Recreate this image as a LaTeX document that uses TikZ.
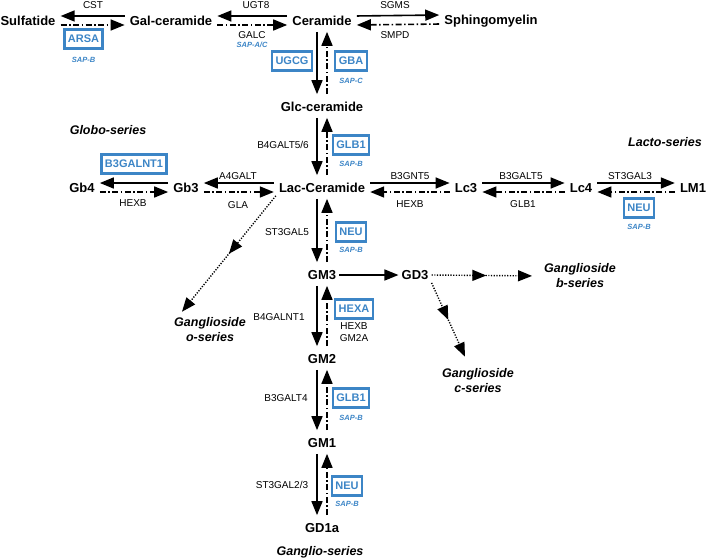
\documentclass[tikz,border=0pt]{standalone}
\usepackage{fontspec}
\setmainfont{Liberation Sans}
\usetikzlibrary{arrows.meta,positioning,decorations.markings}
\definecolor{enzblue}{HTML}{3C85C6}

\begin{document}
\begin{tikzpicture}[x=1pt,y=-1pt,
  met/.style={font=\fontsize{13}{15}\selectfont\bfseries, inner sep=3pt, text height=9.3pt, text depth=0pt},
  lbl/.style={font=\fontsize{10}{12}\selectfont, inner sep=1pt, text height=7.2pt, text depth=0pt},
  enz/.style={draw=enzblue, line width=2.4pt, text=enzblue, font=\fontsize{11}{13}\selectfont\bfseries, inner xsep=3.5pt, minimum height=19pt},
  sap/.style={text=enzblue, font=\fontsize{7.5}{9}\selectfont\bfseries\itshape, inner sep=1pt},
  series/.style={font=\fontsize{12.5}{15}\selectfont\bfseries\itshape, align=center, inner sep=3pt},
  syn/.style={line width=1.6pt, -{Triangle[length=14pt,width=11pt]}},
  deg/.style={syn, dash pattern=on 6pt off 2.5pt on 1.5pt off 2.5pt},
  alt/.style={line width=1.4pt, dash pattern=on 1.2pt off 1.5pt, -{Triangle[length=14pt,width=11pt]},
    postaction={decorate}, decoration={markings, mark=at position 0.5 with {\arrow{Triangle[length=14pt,width=11pt]}}}}
]
\useasboundingbox (0,0) rectangle (708,559);

% metabolites
\node[met] (sulf) at (28,21) {Sulfatide};
\node[met] (galcer) at (171,21) {Gal-ceramide};
\node[met] (cer) at (322,21) {Ceramide};
\node[met] (sm) at (491,20) {Sphingomyelin};
\node[met] (glc) at (322,107) {Glc-ceramide};
\node[met] (lac) at (322,188) {Lac-Ceramide};
\node[met] (gb3) at (186,188) {Gb3};
\node[met] (gb4) at (82,188) {Gb4};
\node[met] (lc3) at (466,188) {Lc3};
\node[met] (lc4) at (581,188) {Lc4};
\node[met] (lm1) at (693,188) {LM1};
\node[met] (gm3) at (322,275) {GM3};
\node[met] (gd3) at (415,275) {GD3};
\node[met] (gm2) at (322,359) {GM2};
\node[met] (gm1) at (322,443) {GM1};
\node[met] (gd1a) at (322,528) {GD1a};

% series
\node[series] (globo) at (108,130) {Globo-series};
\node[series] (lacto) at (665,142) {Lacto-series};
\node[series] (ganglio) at (320,552) {Ganglio-series};
\node[series] (oser) at (210,330) {Ganglioside\\o-series};
\node[series] (bser) at (580,276) {Ganglioside\\b-series};
\node[series] (cser) at (478,381) {Ganglioside\\c-series};

% horizontal reactions
\foreach \s/\d in {galcer.west/sulf.east, cer.west/galcer.east, cer.east/sm.west,
                   gb3.west/gb4.east, lac.west/gb3.east, lac.east/lc3.west,
                   lc3.east/lc4.west, lc4.east/lm1.west} {
  \draw[syn, shorten <=2pt, shorten >=2pt] ([yshift=5pt]\s) -- ([yshift=5pt]\d);
  \draw[deg, shorten <=2pt, shorten >=2pt] ([yshift=-4pt]\d) -- ([yshift=-4pt]\s);
}

% vertical reactions
\foreach \a/\b in {cer/glc, glc/lac, lac/gm3, gm3/gm2, gm2/gm1, gm1/gd1a} {
  \draw[syn, shorten <=3pt, shorten >=5pt] ([xshift=-5pt]\a.south) -- ([xshift=-5pt]\b.north);
  \draw[deg, shorten <=5pt, shorten >=3pt] ([xshift=5pt]\b.north) -- ([xshift=5pt]\a.south);
}

\draw[syn] (gm3) -- (gd3);
\draw[alt] (lac.south west) -- ([xshift=-28pt,yshift=3pt]oser.north);
\draw[alt, shorten >=9pt] (gd3.east) -- (bser.west);
\draw[alt] (gd3.south east) -- ([xshift=-13pt,yshift=9pt]cser.north);

% enzyme names
\node[lbl] (cst) at (93,5) {CST};
\node[lbl] (ugt8) at (256,5) {UGT8};
\node[lbl] (galc) at (252,35) {GALC};
\node[sap] (sapac) at (252,45) {SAP-A/C};
\node[lbl] (sgms) at (395,5) {SGMS};
\node[lbl] (smpd) at (395,35) {SMPD};
\node[lbl] (a4galt) at (238,176) {A4GALT};
\node[lbl] (gla) at (238,205) {GLA};
\node[lbl] (hexbG) at (133,203) {HEXB};
\node[lbl] (b3gnt5) at (410,176) {B3GNT5};
\node[lbl] (hexbL) at (410,204) {HEXB};
\node[lbl] (b3galt5) at (521,176) {B3GALT5};
\node[lbl] (glb1L) at (523,204) {GLB1};
\node[lbl] (st3gal3) at (630,176) {ST3GAL3};
\node[lbl] (b4galt) at (283,145) {B4GALT5/6};
\node[lbl] (st3gal5) at (287,232) {ST3GAL5};
\node[lbl] (b4galnt1) at (279,317) {B4GALNT1};
\node[lbl] (b3galt4) at (286,398) {B3GALT4};
\node[lbl] (st3gal23) at (282,485) {ST3GAL2/3};

% lysosomal enzymes
\node[enz] (arsa) at (83.5,39) {ARSA};
\node[sap, below=6pt of arsa] {SAP-B};
\node[enz] (ugcg) at (292,61) {UGCG};
\node[enz] (gba) at (351,61) {GBA};
\node[sap, below=5pt of gba] {SAP-C};
\node[enz] (glb1a) at (351,145) {GLB1};
\node[sap, below=4pt of glb1a] {SAP-B};
\node[enz] (b3galnt1) at (134,164) {B3GALNT1};
\node[enz] (neua) at (351,232) {NEU};
\node[sap, below=3pt of neua] {SAP-B};
\node[enz] (neul) at (639,208) {NEU};
\node[sap, below=4pt of neul] {SAP-B};
\node[enz] (hexa) at (354,309) {HEXA};
\node[font=\fontsize{10}{12}\selectfont, align=center, inner sep=1pt, below=2pt of hexa] (hexbgm) {HEXB\\GM2A};
\node[enz] (glb1b) at (351,398) {GLB1};
\node[sap, below=5pt of glb1b] {SAP-B};
\node[enz] (neub) at (347,486) {NEU};
\node[sap, below=3pt of neub] {SAP-B};
\end{tikzpicture}
\end{document}
